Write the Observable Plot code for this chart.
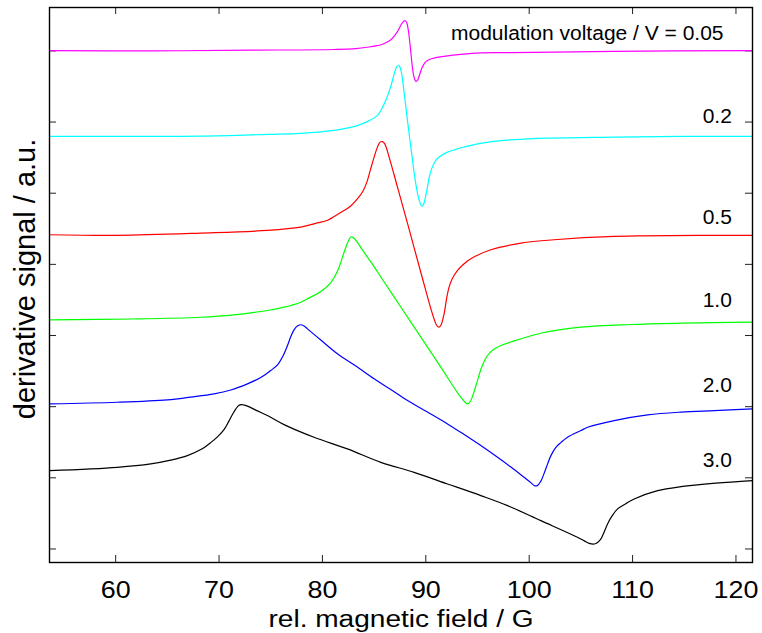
<!DOCTYPE html>
<html>
<head>
<meta charset="utf-8">
<script src="https://cdn.jsdelivr.net/npm/d3@7"></script>
<script src="https://cdn.jsdelivr.net/npm/@observablehq/plot@0.6"></script>
<style>
  body { margin: 0; background: #fff; }
</style>
</head>
<body>
<script>
// ---- data ----
const voltages = ["0.05", "0.2", "0.5", "1.0", "2.0", "3.0"];

const field_005  = [53.6, 63.39, 73.06, 81.10, 83.23, 84.68, 85.65, 86.23, 86.61, 87.0, 87.34, 87.63, 87.87, 88.02, 88.16, 88.31, 88.45, 88.60, 88.74, 88.89, 89.03, 89.19, 89.37, 89.61, 89.90, 90.29, 90.97, 91.77, 93.39, 95.32, 98.52, 108.19, 121.6];
const signal_005 = [7.004, 7.00, 7.01, 7.02, 7.032, 7.058, 7.086, 7.121, 7.156, 7.219, 7.290, 7.374, 7.417, 7.424, 7.395, 7.290, 7.121, 6.910, 6.727, 6.615, 6.572, 6.586, 6.650, 6.755, 6.833, 6.875, 6.906, 6.924, 6.952, 6.973, 6.976, 6.994, 7.004];

const field_02  = [53.6, 61.74, 68.23, 74.68, 77.90, 81.13, 82.74, 83.71, 84.48, 85.33, 85.74, 86.13, 86.47, 86.78, 87.0, 87.19, 87.36, 87.48, 87.63, 87.77, 87.90, 88.11, 88.38, 88.65, 88.87, 89.08, 89.27, 89.45, 89.61, 89.78, 89.93, 90.10, 90.32, 90.58, 90.97, 91.45, 92.10, 92.90, 93.71, 95.32, 98.55, 101.78, 108.22, 114.68, 121.6];
const signal_02 = [5.80, 5.80, 5.803, 5.827, 5.841, 5.883, 5.925, 5.968, 6.017, 6.094, 6.186, 6.305, 6.439, 6.587, 6.706, 6.779, 6.798, 6.779, 6.706, 6.572, 6.418, 6.165, 5.841, 5.539, 5.286, 5.089, 4.948, 4.864, 4.819, 4.843, 4.920, 5.039, 5.215, 5.349, 5.462, 5.525, 5.578, 5.616, 5.649, 5.701, 5.753, 5.775, 5.789, 5.799, 5.80];

const field_05  = [53.6, 60.16, 68.23, 74.68, 77.90, 79.51, 80.49, 81.77, 82.74, 83.42, 83.90, 84.29, 84.68, 85.02, 85.31, 85.55, 85.80, 86.03, 86.45, 87.26, 88.23, 89.52, 90.48, 90.80, 91.06, 91.26, 91.45, 91.77, 92.03, 92.25, 92.52, 93.07, 93.68, 94.35, 96.29, 99.19, 102.42, 108.22, 117.9, 121.6];
const signal_05 = [4.416, 4.407, 4.439, 4.477, 4.523, 4.582, 4.620, 4.730, 4.821, 4.927, 5.025, 5.152, 5.349, 5.518, 5.644, 5.715, 5.726, 5.694, 5.508, 5.086, 4.575, 3.886, 3.380, 3.232, 3.141, 3.117, 3.141, 3.305, 3.535, 3.679, 3.788, 3.914, 4.006, 4.079, 4.205, 4.298, 4.346, 4.392, 4.407, 4.407];

const field_10  = [53.6, 61.74, 68.23, 71.45, 74.68, 76.29, 77.90, 78.55, 79.84, 80.81, 81.48, 82.09, 82.45, 82.74, 83.03, 83.42, 83.90, 84.68, 85.65, 87.58, 89.52, 91.45, 93.39, 94.04, 94.35, 94.64, 95.0, 95.32, 95.64, 95.97, 96.48, 97.26, 98.23, 101.13, 105.0, 109.84, 114.68, 121.6];
const signal_10 = [3.22, 3.232, 3.257, 3.291, 3.352, 3.398, 3.468, 3.516, 3.618, 3.745, 3.914, 4.168, 4.308, 4.385, 4.371, 4.301, 4.196, 4.034, 3.823, 3.401, 2.978, 2.556, 2.132, 2.039, 2.086, 2.198, 2.367, 2.522, 2.635, 2.719, 2.796, 2.859, 2.909, 3.032, 3.117, 3.155, 3.173, 3.187];

const field_20  = [53.6, 60.16, 65.0, 67.26, 69.51, 71.13, 72.75, 74.03, 75.0, 75.68, 76.16, 76.62, 76.94, 77.27, 77.61, 77.95, 78.29, 78.55, 79.84, 81.45, 83.23, 85.0, 86.61, 88.23, 90.16, 92.10, 93.71, 95.32, 96.94, 98.23, 99.51, 100.16, 100.48, 100.79, 101.13, 101.47, 101.78, 102.10, 102.58, 103.06, 103.71, 105.0, 105.65, 108.22, 111.45, 114.68, 117.90, 121.6];
const signal_20 = [2.039, 2.062, 2.096, 2.135, 2.180, 2.234, 2.321, 2.409, 2.508, 2.592, 2.705, 2.859, 2.986, 3.084, 3.136, 3.151, 3.127, 3.094, 2.937, 2.743, 2.571, 2.391, 2.241, 2.086, 1.924, 1.758, 1.608, 1.453, 1.288, 1.151, 1.007, 0.933, 0.893, 0.890, 0.954, 1.073, 1.196, 1.312, 1.429, 1.495, 1.570, 1.664, 1.710, 1.805, 1.885, 1.924, 1.945, 1.969];

const field_30  = [53.6, 60.16, 63.39, 65.32, 66.94, 68.23, 69.19, 69.87, 70.48, 70.93, 71.32, 71.61, 71.90, 72.19, 72.48, 72.75, 73.55, 74.68, 76.29, 79.19, 82.42, 85.65, 88.87, 92.10, 95.32, 97.91, 101.13, 104.35, 105.29, 105.80, 106.29, 106.65, 106.94, 107.26, 107.58, 108.0, 108.55, 109.35, 110.16, 112.42, 114.68, 118.06, 121.6];
const signal_30 = [1.101, 1.148, 1.196, 1.249, 1.312, 1.397, 1.495, 1.580, 1.678, 1.790, 1.896, 1.966, 2.016, 2.030, 2.021, 2.008, 1.952, 1.875, 1.748, 1.570, 1.407, 1.218, 1.077, 0.914, 0.750, 0.609, 0.398, 0.187, 0.117, 0.079, 0.070, 0.096, 0.141, 0.243, 0.352, 0.461, 0.563, 0.637, 0.703, 0.820, 0.876, 0.925, 0.961];

const xTicks = [60, 70, 80, 90, 100, 110, 120];
const yTicks = [0, 1, 2, 3, 4, 5, 6, 7];

const labelText = ["modulation voltage / V = 0.05", "0.2", "0.5", "1.0", "2.0", "3.0"];
const labelX    = [118.8, 119.6, 119.6, 119.6, 119.6, 119.6];
const labelY    = [7.25, 6.07, 4.66, 3.49, 2.30, 1.24];

const xTitle = "rel. magnetic field / G";
const yTitle = "derivative signal / a.u.";

// ---- styles ----
const colors = ["#ff00ff", "#00ffff", "#ff0000", "#00ff00", "#0000ff", "#000000"];

// ---- build table ----
const fields  = [field_005, field_02, field_05, field_10, field_20, field_30];
const signals = [signal_005, signal_02, signal_05, signal_10, signal_20, signal_30];
const rows = [];
voltages.forEach((v, i) => fields[i].forEach((f, j) => rows.push({voltage: v, field: f, signal: signals[i][j]})));
const labels = labelText.map((t, i) => ({text: t, x: labelX[i], y: labelY[i], voltage: voltages[i]}));

const W = 762, H = 633, mL = 49, mR = 10, mT = 7, mB = 71;
const fw = W - mL - mR, fh = H - mT - mB, tick = 7;

const chart = Plot.plot({
  width: W, height: H,
  marginLeft: mL, marginRight: mR, marginTop: mT, marginBottom: mB,
  style: {fontFamily: "'Liberation Sans', Arial, sans-serif", background: "#fff", color: "#000"},
  x: {domain: [53.6, 121.6]},
  y: {domain: [-0.19, 7.61]},
  color: {domain: voltages, range: colors},
  marks: [
    Plot.ruleX(xTicks, {x: d => d, insetTop: fh - tick, stroke: "#222"}),
    Plot.ruleX(xTicks, {x: d => d, insetBottom: fh - tick, stroke: "#222"}),
    Plot.ruleY(yTicks, {y: d => d, insetRight: fw - tick, stroke: "#222"}),
    Plot.ruleY(yTicks, {y: d => d, insetLeft: fw - tick, stroke: "#222"}),
    Plot.axisX({anchor: "bottom", ticks: xTicks, tickSize: 0, tickPadding: 18, fontSize: 24, label: null, ariaDescription: "ticklabel"}),
    Plot.axisY({anchor: "left", ticks: [], label: null}),
    Plot.lineY(rows, {x: "field", y: "signal", z: "voltage", stroke: "voltage", strokeWidth: 1.2, curve: "catmull-rom"}),
    Plot.text(labels, {x: "x", y: "y", text: "text", textAnchor: "end", fontSize: 20, fill: "#000", className: "series-label"}),
    Plot.text([xTitle], {text: d => d, frameAnchor: "bottom", dy: 64, fontSize: 23, fill: "#000", className: "x-title"}),
    Plot.text([yTitle], {text: d => d, frameAnchor: "left", textAnchor: "middle", rotate: -90, dx: -24, dy: -6, fontSize: 29, fill: "#000"}),
    Plot.frame({stroke: "#000", strokeWidth: 1.4})
  ]
});
document.body.append(chart);

// horizontal glyph stretch seen in the reference
function stretch(selector, k) {
  chart.querySelectorAll(selector).forEach(t => {
    if ((t.getAttribute("transform") || "").includes("rotate")) return;
    const L = t.getComputedTextLength();
    if (L > 0) {
      t.setAttribute("textLength", (L * k).toFixed(1));
      t.setAttribute("lengthAdjust", "spacingAndGlyphs");
    }
  });
}
stretch("[aria-label='x-axis tick label'] text", 1.12);
stretch(".series-label text", 1.05);
stretch(".x-title text", 1.22);
</script>
</body>
</html>
